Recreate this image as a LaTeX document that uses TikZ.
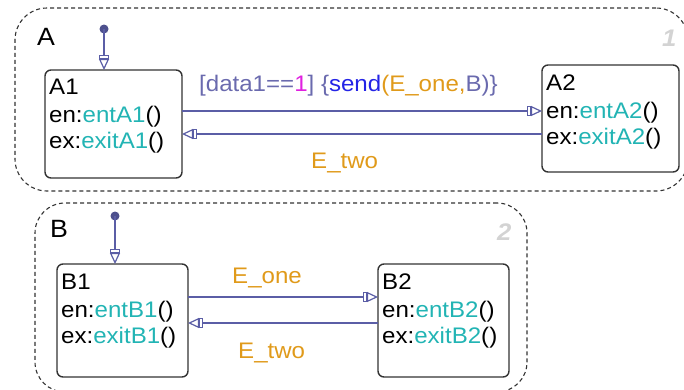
\documentclass[tikz,border=0pt]{standalone}
\usepackage{fontspec}
\setmainfont[FakeStretch=1.07]{Liberation Sans}
\usetikzlibrary{arrows.meta}
\definecolor{transc}{HTML}{5B5EA6}
\definecolor{lblc}{HTML}{6A6AAE}
\definecolor{magc}{HTML}{E020E0}
\definecolor{sendc}{HTML}{2424E6}
\definecolor{orc}{HTML}{E09A1A}
\definecolor{tealc}{HTML}{22B4B4}
\definecolor{numc}{HTML}{D3D3D3}
\definecolor{boxc}{HTML}{333333}
\tikzset{
  superstate/.style={draw=boxc, dashed, dash pattern=on 4pt off 3pt, line width=1.1pt, rounded corners=32pt, rectangle, inner sep=0pt, outer sep=0pt, anchor=north west},
  statebox/.style={draw=boxc, line width=1.4pt, rounded corners=6pt, rectangle, inner sep=0pt, outer sep=0pt, anchor=north west},
  txt/.style={anchor=base west, inner sep=0pt, font=\fontsize{22.5}{26}\selectfont},
  bigtxt/.style={anchor=base west, inner sep=0pt, font=\fontsize{25}{28}\selectfont},
  numtxt/.style={anchor=base west, inner sep=0pt, text=numc, font=\fontsize{24}{28}\selectfont\bfseries\itshape},
  trans/.style={draw=transc, line width=1.2pt, -{Rectangle[open, length=4pt, width=10pt, sep=0pt, fill=white]Triangle[open, length=11pt, width=10pt, sep=0pt, fill=white]}},
  initdot/.style={circle, fill=transc!85!black, inner sep=0pt, minimum size=9pt},
}
\begin{document}
\begin{tikzpicture}[x=1pt, y=-1pt]
\useasboundingbox (0,0) rectangle (684,389);
% superstates
\node[superstate, minimum width=673pt, minimum height=183pt] (A) at (15,8) {};
\node[superstate, minimum width=492pt, minimum height=189pt, rounded corners=30pt] (B) at (35,203) {};
\node[bigtxt] (Alab) at (37,45) {A};
\node[bigtxt] (Blab) at (50,237) {B};
\node[numtxt] (Anum) at (662,46) {1};
\node[numtxt] (Bnum) at (497,240) {2};
% states
\node[statebox, minimum width=137pt, minimum height=108pt] (A1) at (45,70) {};
\node[statebox, minimum width=137pt, minimum height=107pt] (A2) at (542,65) {};
\node[statebox, minimum width=131pt, minimum height=113pt] (B1) at (57,264) {};
\node[statebox, minimum width=131pt, minimum height=113pt] (B2) at (378,264) {};
% state texts
\node[txt] (A1t) at (49,94) {A1};
\node[txt] (A1en) at (49,122) {en:\textcolor{tealc}{entA1}()};
\node[txt] (A1ex) at (49,148) {ex:\textcolor{tealc}{exitA1}()};
\node[txt] (A2t) at (546,90) {A2};
\node[txt] (A2en) at (546,118) {en:\textcolor{tealc}{entA2}()};
\node[txt] (A2ex) at (546,144) {ex:\textcolor{tealc}{exitA2}()};
\node[txt] (B1t) at (61,289) {B1};
\node[txt] (B1en) at (61,317) {en:\textcolor{tealc}{entB1}()};
\node[txt] (B1ex) at (61,343) {ex:\textcolor{tealc}{exitB1}()};
\node[txt] (B2t) at (382,289) {B2};
\node[txt] (B2en) at (382,317) {en:\textcolor{tealc}{entB2}()};
\node[txt] (B2ex) at (382,343) {ex:\textcolor{tealc}{exitB2}()};
% default transitions
\node[initdot] (iA) at (104,29) {};
\node[initdot] (iB) at (115,216) {};
\draw[trans] (iA.center) -- (iA.center |- A1.north);
\draw[trans] (iB.center) -- (iB.center |- B1.north);
% transition levels
\coordinate (yA1) at (0,111);
\coordinate (yA2) at (0,134);
\coordinate (yB1) at (0,297);
\coordinate (yB2) at (0,323);
\draw[trans] (A1.east |- yA1) -- (A2.west |- yA1);
\draw[trans] (A2.west |- yA2) -- (A1.east |- yA2);
\draw[trans] (B1.east |- yB1) -- (B2.west |- yB1);
\draw[trans] (B2.west |- yB2) -- (B1.east |- yB2);
% transition labels
\node[txt, text=lblc] (lA1) at (199,91) {[data1==\textcolor{magc}{1}] \{\textcolor{sendc}{send}\textcolor{orc}{(E\_one,}B)\}};
\node[txt, text=orc] (lA2) at (311,168) {E\_two};
\node[txt, text=orc] (lB1) at (232,283) {E\_one};
\node[txt, text=orc] (lB2) at (238,358) {E\_two};
\end{tikzpicture}
\end{document}
